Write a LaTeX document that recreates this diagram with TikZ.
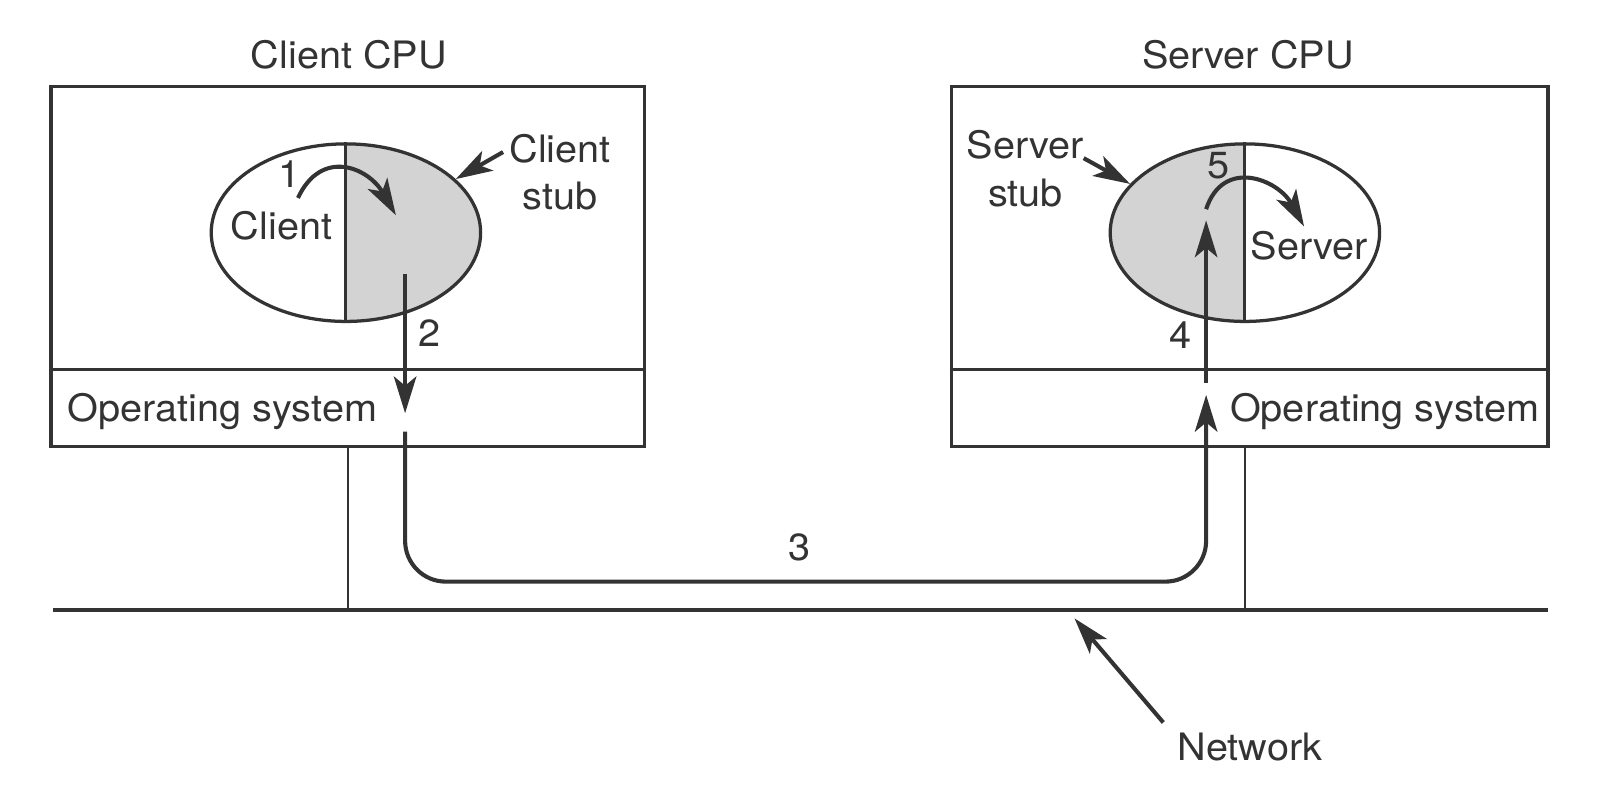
\documentclass[tikz,border=0pt]{standalone}
\usepackage{fontspec}
\setmainfont{TeX Gyre Heros}[FakeStretch=1.05]
\usetikzlibrary{arrows.meta, shapes.geometric}
\definecolor{ink}{HTML}{333333}
\definecolor{stubgray}{HTML}{D3D3D3}

\begin{document}
\begin{tikzpicture}[x=0.5pt, y=0.5pt, ink,
  every node/.style={text=ink, inner sep=0pt, font=\fontsize{18.5}{23.25}\selectfont},
  cpu/.style={draw, rectangle, line width=1.5pt, minimum height=176.5pt},
  proc/.style={draw, ellipse, line width=1.6pt, minimum width=132pt, minimum height=87pt},
  stubR/.style={proc, path picture={\fill[stubgray] (path picture bounding box.north) rectangle (path picture bounding box.south east);}},
  stubL/.style={proc, path picture={\fill[stubgray] (path picture bounding box.north) rectangle (path picture bounding box.south west);}},
  lbl/.style={anchor=base},
  tip/.style={-{Stealth[length=18pt, width=11pt, inset=4.5pt]}},
  flow/.style={tip, line width=2pt},
  ptr/.style={tip, line width=2pt},
  tap/.style={line width=1.2pt}]
\useasboundingbox (0,0) rectangle (1568,784);

\node[cpu, minimum width=291pt] (ccpu) at (341,522.5) {};
\node[cpu, minimum width=292.5pt] (scpu) at (1224.5,522.5) {};
\node[lbl] (ccpulbl) at (342,717) {Client CPU};
\node[lbl] (scpulbl) at (1223,717) {Server CPU};
\coordinate (osline) at (0,422);
\draw[line width=1.5pt] (ccpu.west |- osline) -- (ccpu.east |- osline);
\draw[line width=1.5pt] (scpu.west |- osline) -- (scpu.east |- osline);
\node[lbl] (cos) at (218,371) {Operating system};
\node[lbl] (sos) at (1357,371) {Operating system};

\node[stubR] (cproc) at (339,556) {};
\node[stubL] (sproc) at (1220,556) {};
\draw[line width=1.5pt] (cproc.north) -- (cproc.south);
\draw[line width=1.5pt] (sproc.north) -- (sproc.south);

\node[lbl] (client) at (276,549.6) {Client};
\node[lbl] (server) at (1283,530) {Server};
\node[align=center] (cstub) at (549,615.3) {Client\\stub};
\node[align=center] (sstub) at (1005,618.8) {Server\\stub};
\node[lbl] (n1) at (284,600.5) {1};
\node[lbl] (n2) at (421,444.4) {2};
\node[lbl] (n3) at (784,235) {3};
\node[lbl] (n4) at (1157,442.5) {4};
\node[lbl] (n5) at (1194,608.7) {5};
\node[lbl] (net) at (1225,39) {Network};

\coordinate (busL) at (52,186);
\coordinate (busR) at (1517,186);
\draw[line width=2pt] (busL) -- (busR);
\draw[tap] (ccpu.south) -- (ccpu.south |- busL);
\draw[tap] (scpu.south -| sproc) -- (sproc |- busL);

\coordinate (c2from) at (397,515);
\coordinate (c2to) at (397,379);
\coordinate (c3from) at (397,361);
\coordinate (c3low) at (790,214);
\coordinate (c3to) at (1182,397);
\coordinate (s4from) at (1182,409);
\coordinate (s4to) at (1182,568);
\draw[flow] (c2from) -- (c2to);
\draw[flow, rounded corners=20pt] (c3from) |- (c3low) -| (c3to);
\draw[flow] (s4from) -- (s4to);

\coordinate (c1from) at (292,590);
\coordinate (c1to) at (388,573);
\draw[ptr] (c1from) to[out=65, in=120, looseness=1.43] (c1to);
\coordinate (s5from) at (1182,579);
\coordinate (s5to) at (1278,562);
\draw[ptr] (s5from) to[out=72, in=119, looseness=1.4] (s5to);

\coordinate (cstubtail) at (493,635);
\draw[ptr] (cstubtail) -- (cproc.26);
\coordinate (sstubtail) at (1062,629);
\draw[ptr] (sstubtail) -- (sproc.157);
\coordinate (nettail) at (1140,76);
\draw[ptr] (nettail) -- (1053,178);
\end{tikzpicture}
\end{document}
